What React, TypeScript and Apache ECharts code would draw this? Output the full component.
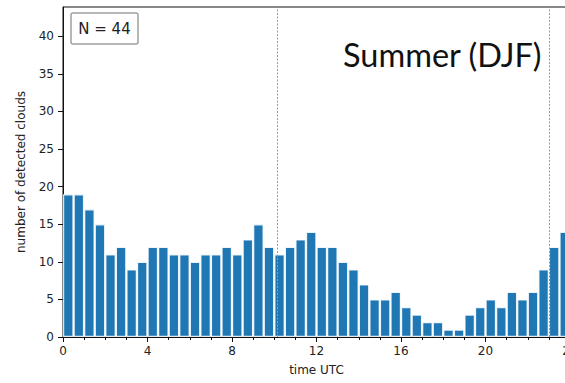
import React, { useEffect, useRef } from "react";
import * as echarts from "echarts";

// start hour of each half-hour bin (UTC)
const binStarts = [
  0, 0.5, 1, 1.5, 2, 2.5, 3, 3.5, 4, 4.5, 5, 5.5, 6, 6.5, 7, 7.5,
  8, 8.5, 9, 9.5, 10, 10.5, 11, 11.5, 12, 12.5, 13, 13.5, 14, 14.5, 15, 15.5,
  16, 16.5, 17, 17.5, 18, 18.5, 19, 19.5, 20, 20.5, 21, 21.5, 22, 22.5, 23, 23.5,
];
const cloudCounts = [
  19, 19, 17, 15, 11, 12, 9, 10, 12, 12, 11, 11, 10, 11, 11, 12,
  11, 13, 15, 12, 11, 12, 13, 14, 12, 12, 10, 9, 7, 5, 5, 6,
  4, 3, 2, 2, 1, 1, 3, 4, 5, 4, 6, 5, 6, 9, 12, 14,
];
const binWidth = 0.5;
const xTicks = [0, 4, 8, 12, 16, 20, 24];
const yTicks = [0, 5, 10, 15, 20, 25, 30, 35, 40];
const markerHours = [10.13, 23.03];
const sampleLabel = "N = 44";
const seasonLabel = "Summer (DJF)";

export default function App() {
  const ref = useRef<HTMLDivElement>(null);
  useEffect(() => {
    if (!ref.current) return;
    const chart = echarts.init(ref.current, undefined, { renderer: "svg" });
    const gridLeft = 63;
    const gridWidth = 507;
    const pxPerHour = gridWidth / 24;
    const tickFont = { fontFamily: "DejaVu Sans", fontSize: 12, color: "#222" };
    chart.setOption({
      animation: false,
      grid: {
        left: gridLeft,
        top: 7,
        width: gridWidth,
        height: 330,
        containLabel: false,
        outerBoundsMode: "none",
        show: true,
        borderColor: "#111",
        borderWidth: 1,
        backgroundColor: "transparent",
      },
      xAxis: {
        type: "value",
        min: 0,
        max: 24,
        interval: 4,
        name: "time UTC",
        nameLocation: "middle",
        nameGap: 27,
        nameTextStyle: { fontFamily: "DejaVu Sans", fontSize: 12, color: "#222" },
        axisLine: { show: true, onZero: false, lineStyle: { color: "#111", width: 1 } },
        axisTick: { show: true, length: 5, lineStyle: { color: "#111" }, customValues: xTicks },
        minorTick: { show: true, splitNumber: 4, length: 3, lineStyle: { color: "#111" } },
        axisLabel: { ...tickFont, margin: 8, customValues: xTicks },
        splitLine: { show: false },
        minorSplitLine: { show: false },
      },
      yAxis: {
        type: "value",
        min: 0,
        max: 43.9,
        interval: 5,
        name: "number of detected clouds",
        nameLocation: "middle",
        nameGap: 36,
        nameRotate: 90,
        nameTextStyle: { fontFamily: "DejaVu Sans", fontSize: 12, color: "#222" },
        axisLine: { show: true, lineStyle: { color: "#111", width: 1 } },
        axisTick: { show: true, length: 5, lineStyle: { color: "#111" }, customValues: yTicks },
        axisLabel: { ...tickFont, margin: 9, customValues: yTicks },
        splitLine: { show: false },
      },
      series: [
        {
          type: "bar",
          data: binStarts.map((h, i) => [h + binWidth / 2, cloudCounts[i]]),
          barWidth: binWidth * pxPerHour,
          itemStyle: {
            color: "#1f77b4",
            borderColor: "rgba(255,255,255,0.85)",
            borderWidth: 1.2,
          },
          markLine: {
            silent: true,
            symbol: "none",
            label: { show: false },
            lineStyle: { color: "#999", type: [2, 1.5], width: 1 },
            data: markerHours.map((h) => ({ xAxis: h })),
            z: 10,
          },
        },
      ],
      graphic: [
        {
          type: "rect",
          shape: { x: 71, y: 13, width: 67, height: 31, r: 2 },
          style: { fill: "#fff", stroke: "#a0a0a0", lineWidth: 1.5 },
          z: 20,
        },
        {
          type: "text",
          x: 104.5,
          y: 29,
          style: {
            text: sampleLabel,
            fontFamily: "DejaVu Sans",
            fontSize: 15,
            fill: "#222",
            align: "center",
            verticalAlign: "middle",
          },
          z: 21,
        },
        {
          type: "text",
          x: 343,
          y: 54,
          style: {
            text: seasonLabel,
            fontFamily: "Lato",
            fontSize: 32.5,
            fill: "#111",
            align: "left",
            verticalAlign: "middle",
          },
          z: 21,
        },
      ],
    });
    return () => chart.dispose();
  }, []);
  return (
    <div
      ref={ref}
      style={{ position: "fixed", left: 0, top: 0, width: 565, height: 383, background: "#fff" }}
    />
  );
}
